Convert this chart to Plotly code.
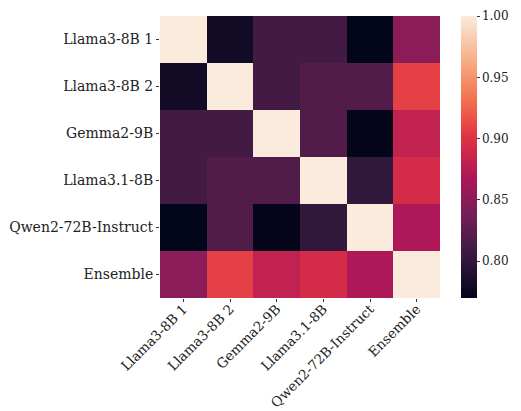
import plotly.graph_objects as go

labels = ["Llama3-8B 1", "Llama3-8B 2", "Gemma2-9B", "Llama3.1-8B", "Qwen2-72B-Instruct", "Ensemble"]

row_l1 = [1.000, 0.780, 0.810, 0.810, 0.770, 0.850]
row_l2 = [0.780, 1.000, 0.810, 0.819, 0.819, 0.908]
row_g = [0.810, 0.810, 1.000, 0.819, 0.771, 0.882]
row_l31 = [0.810, 0.819, 0.819, 1.000, 0.801, 0.893]
row_q = [0.770, 0.819, 0.771, 0.801, 1.000, 0.870]
row_e = [0.850, 0.908, 0.882, 0.893, 0.870, 1.000]
matrix = [row_l1, row_l2, row_g, row_l31, row_q, row_e]

cbar_ticks = [0.80, 0.85, 0.90, 0.95, 1.00]
cbar_labels = ["0.80", "0.85", "0.90", "0.95", "1.00"]

rocket = [
    [0.0, "#03051a"],
    [1/7, "#35193e"],
    [2/7, "#701f57"],
    [3/7, "#ad1759"],
    [4/7, "#e13342"],
    [5/7, "#f37651"],
    [6/7, "#f6b48f"],
    [1.0, "#faebdd"],
]

font = "DejaVu Serif"
fs = 14

fig = go.Figure(go.Heatmap(
    z=matrix, x=labels, y=labels, colorscale=rocket,
    zmin=min(min(r) for r in matrix), zmax=1.0001,
    xgap=0, ygap=0,
    colorbar=dict(
        thickness=16, len=1.0, lenmode="fraction", y=0.5, yanchor="middle",
        x=1.075, xanchor="left", xpad=0, ypad=0, outlinewidth=0,
        tickvals=cbar_ticks, ticktext=cbar_labels, ticklabeloverflow="allow",
        ticks="outside", ticklen=3, tickcolor="#333", tickwidth=1,
        tickfont=dict(family=font, size=12, color="#222"),
    ),
))

fig.update_layout(
    width=513, height=403,
    margin=dict(l=152, r=81, t=8, b=113, autoexpand=False),
    paper_bgcolor="white", plot_bgcolor="white",
    font=dict(family=font, size=fs, color="#222"),
)
fig.update_xaxes(tickangle=-45, ticks="outside", ticklen=3, tickcolor="#333",
                 ticklabelstandoff=-6,
                 showgrid=False, zeroline=False, showline=False, automargin=False,
                 tickfont=dict(family=font, size=13.5, color="#222"))
fig.update_yaxes(autorange="reversed", ticks="outside", ticklen=3, tickcolor="#333",
                 showgrid=False, zeroline=False, showline=False, automargin=False,
                 tickfont=dict(family=font, size=fs, color="#222"))

fig.write_html("out.html")
